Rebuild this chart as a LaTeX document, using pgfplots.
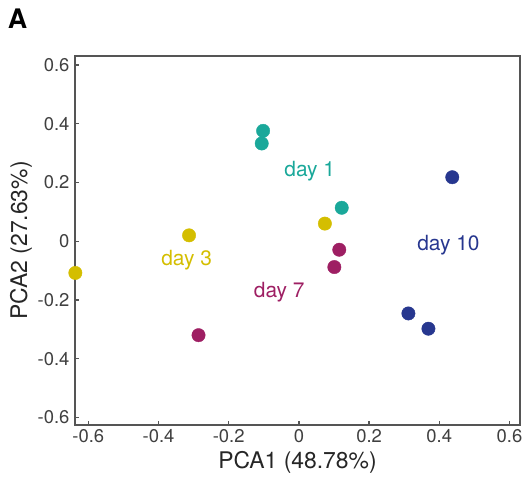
\documentclass[border=0pt]{standalone}
\usepackage{pgfplots}
\pgfplotsset{compat=1.18}
\usepackage{fontspec}
\setmainfont{TeX Gyre Heros}
\definecolor{cday1}{HTML}{1AA89A}
\definecolor{cday3}{HTML}{D4BE00}
\definecolor{cday7}{HTML}{9E1F63}
\definecolor{cday10}{HTML}{27378F}
\definecolor{axgray}{HTML}{555555}
\definecolor{tickgray}{HTML}{404040}
\begin{document}
\begin{tikzpicture}
\begin{axis}[
  scale only axis,
  width=445bp, height=369bp,
  at={(0,0)}, anchor=south west,
  xmin=-0.638, xmax=0.630,
  ymin=-0.626, ymax=0.631,
  axis line style={axgray, line width=1.5bp},
  tick style={axgray, line width=1.2bp},
  tick align=inside,
  xtick pos=left, ytick pos=left,
  major tick length=4bp,
  xtick={-0.6,-0.4,-0.2,0,0.2,0.4,0.6},
  ytick={-0.6,-0.4,-0.2,0,0.2,0.4,0.6},
  xticklabels={-0.6,-0.4,-0.2,0,0.2,0.4,0.6},
  yticklabels={-0.6,-0.4,-0.2,0,0.2,0.4,0.6},
  ticklabel style={font=\fontsize{18.5}{20}\selectfont, text=tickgray},
  xticklabel style={yshift=-1bp},
  yticklabel style={xshift=-2bp},
  xlabel={PCA1 (48.78\%)},
  ylabel={PCA2 (27.63\%)},
  label style={font=\fontsize{23}{25}\selectfont, text=black!85},
  xlabel style={yshift=-2bp},
  ylabel style={yshift=-1bp},
  clip=false,
]
\addplot[only marks, mark=*, mark size=6.7bp, color=cday1, mark options={draw=cday1, fill=cday1}]
  coordinates {(-0.102,0.376) (-0.106,0.333) (0.122,0.114)};
\addplot[only marks, mark=*, mark size=6.7bp, color=cday3, mark options={draw=cday3, fill=cday3}]
  coordinates {(-0.313,0.020) (-0.637,-0.108) (0.074,0.060)};
\addplot[only marks, mark=*, mark size=6.7bp, color=cday7, mark options={draw=cday7, fill=cday7}]
  coordinates {(-0.286,-0.320) (0.115,-0.029) (0.101,-0.088)};
\addplot[only marks, mark=*, mark size=6.7bp, color=cday10, mark options={draw=cday10, fill=cday10}]
  coordinates {(0.437,0.218) (0.312,-0.246) (0.369,-0.298)};
\node[text=cday1, font=\fontsize{21}{23}\selectfont] at (axis cs:0.031,0.240) {day 1};
\node[text=cday3, font=\fontsize{21}{23}\selectfont] at (axis cs:-0.320,-0.064) {day 3};
\node[text=cday7, font=\fontsize{21}{23}\selectfont] at (axis cs:-0.056,-0.175) {day 7};
\node[text=cday10, font=\fontsize{21}{23}\selectfont] at (axis cs:0.426,-0.013) {day 10};
\end{axis}
\node[font=\fontsize{27}{29}\selectfont\bfseries] at (-57.5bp,406.5bp) {A};
\pgfresetboundingbox
\path[use as bounding box] (-75bp,-56bp) rectangle (453bp,425bp);
\end{tikzpicture}
\end{document}
